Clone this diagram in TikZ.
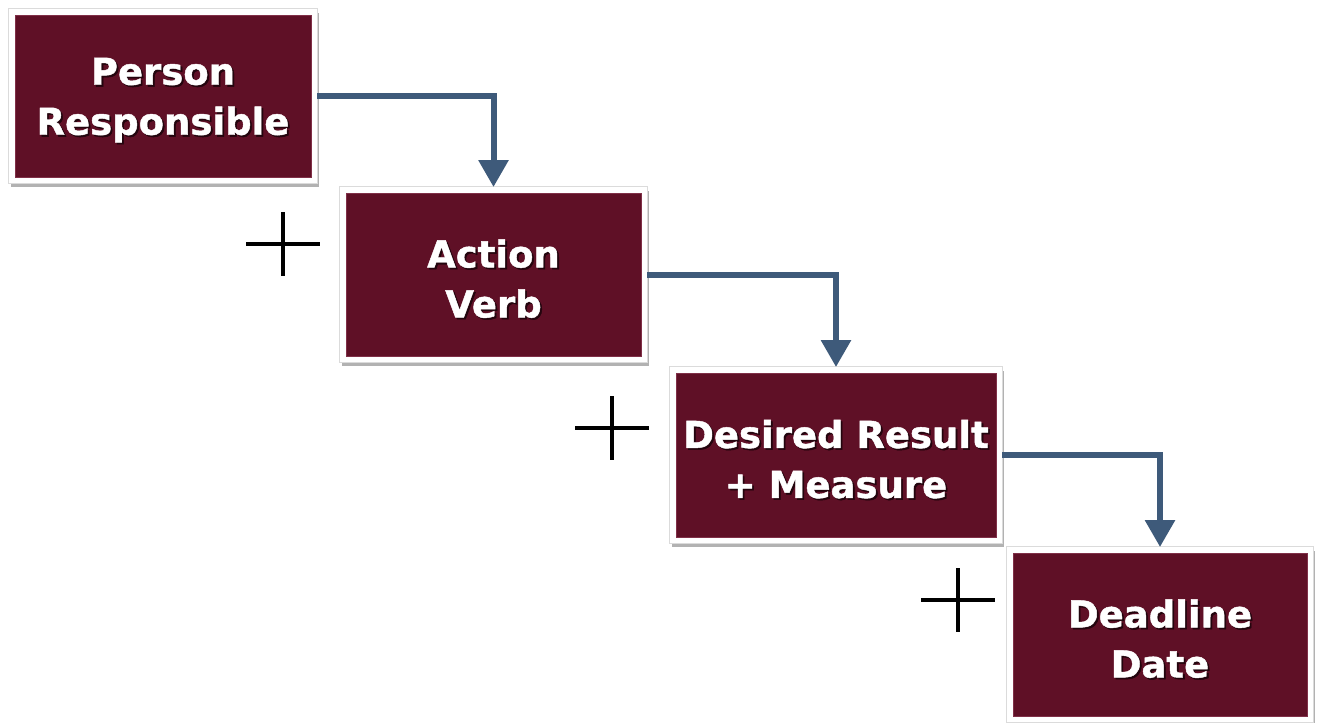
\documentclass[tikz,border=0pt]{standalone}
\usepackage{fontspec}
\setmainfont{DejaVu Sans}
\newfontfamily\boxfont[BoldFeatures={FakeBold=1.2}]{DejaVu Sans}
\usetikzlibrary{arrows.meta,shadows}
\definecolor{maroon}{RGB}{95,16,38}
\definecolor{bevel}{RGB}{128,48,72}
\definecolor{arrowblue}{RGB}{62,90,122}
\definecolor{txtshadow}{RGB}{35,5,14}
\newcommand\shtxt[1]{\makebox[0pt][l]{\hspace{1.8pt}\raisebox{-1.8pt}{\color{txtshadow}#1}}#1}
\begin{document}
\begin{tikzpicture}[x=1pt,y=-1pt,
  stepbox/.style={rectangle, fill=maroon, draw=bevel, line width=1pt,
    inner sep=0pt, outer sep=6pt,
    preaction={draw=black!30, fill=black!30, line width=12pt, transform canvas={shift={(1.5pt,-4pt)}}},
    preaction={draw=black!14, line width=14pt},
    preaction={draw=white, line width=12pt}},
  boxtext/.style={align=center, text=white, inner sep=0pt, yshift=-5pt,
    font=\boxfont\fontsize{37}{50}\selectfont\bfseries},
  flow/.style={draw=arrowblue, line width=6pt, -{Triangle[width=29pt,length=27pt]}},
  plus/.style={line width=4pt, black}]
\useasboundingbox[fill=white] (0,0) rectangle (1318,723);

\node[stepbox, minimum width=296pt, minimum height=162pt,
  label={[boxtext]center:{\shtxt{Person}\\\shtxt{Responsible}}}] (b1) at (163,96) {};
\node[stepbox, minimum width=295pt, minimum height=163pt,
  label={[boxtext]center:{\shtxt{Action}\\\shtxt{Verb}}}] (b2) at (493.5,274.5) {};
\node[stepbox, minimum width=320pt, minimum height=164pt,
  label={[boxtext]center:{\shtxt{Desired Result}\\\shtxt{+ Measure}}}] (b3) at (836,455) {};
\node[stepbox, minimum width=294pt, minimum height=163pt,
  label={[boxtext]center:{\shtxt{Deadline}\\\shtxt{Date}}}] (b4) at (1160,634.5) {};

\draw[flow] (b1.east) -| (b2.north);
\draw[flow] (b2.east) -| (b3.north);
\draw[flow] (b3.east) -| (b4.north);

\coordinate (p1) at (283,244);
\coordinate (p2) at (612,428);
\coordinate (p3) at (958,600);
\foreach \p in {p1,p2,p3}{
  \draw[plus] ([xshift=-37pt]\p) -- ([xshift=37pt]\p);
  \draw[plus] ([yshift=32pt]\p) -- ([yshift=-32pt]\p);
}
\end{tikzpicture}
\end{document}
